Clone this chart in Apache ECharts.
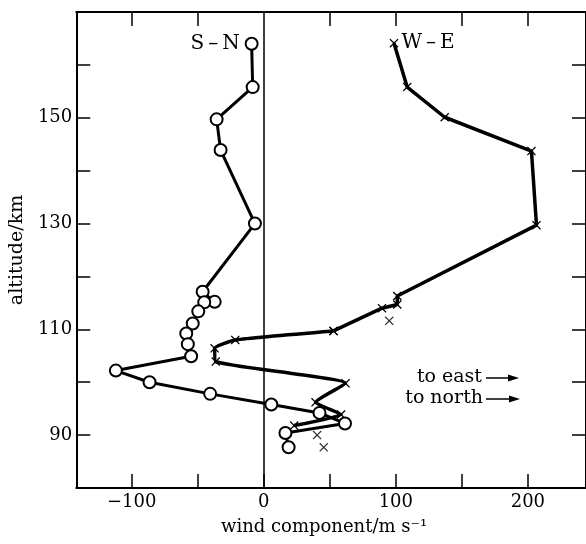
<!DOCTYPE html>
<html>
<head>
<meta charset="utf-8">
<script src="https://cdn.jsdelivr.net/npm/echarts@6/dist/echarts.min.js"></script>
<style>
  html, body { margin: 0; padding: 0; background: #fff; }
  #main { width: 586px; height: 544px; }
</style>
</head>
<body>
<div id="main"></div>
<script>
// S-N component (circles) top to bottom along the curve
const snX = [-9.2, -8.4, -35.7, -32.7, -6.7, -46.3, -37.2, -45.1, -49.6, -53.8, -58.7, -57.5, -55.0, -112, -86.5, -40.6, 5.7, 42.2, 61.5, 16.4, 18.8]
const snY = [164.0, 155.8, 149.7, 143.9, 130.0, 117.1, 115.2, 115.1, 113.4, 111.1, 109.2, 107.2, 104.9, 102.2, 100.0, 97.8, 95.8, 94.2, 92.2, 90.4, 87.7]

// W-E component (crosses) along the curve
const weX = [98.6, 108.6, 137, 202.7, 206.5, 101.1, 101.1, 89.5, 52.8, -21.6, -37.2, -36.4, 61.9, 39.2, 58.5, 23]
const weY = [164.1, 155.8, 150.1, 143.7, 129.7, 116.3, 114.7, 114.0, 109.7, 108.0, 106.4, 103.9, 99.8, 96.2, 93.9, 91.8]
// W-E crosses not on the line
const weLooseX = [95, 40.4, 45.4]
const weLooseY = [111.6, 90.0, 87.7]

const xTicks = [-100, -50, 0, 50, 100, 150, 200]
const xLabels = [-100, 0, 100, 200]
const yTicks = [90, 100, 110, 120, 130, 140, 150, 160]
const yLabels = [90, 110, 130, 150]

const FONT = 'DejaVu Serif'
const crossPath = 'path://M0,1L1,0L5,4L9,0L10,1L6,5L10,9L9,10L5,6L1,10L0,9L4,5Z'

var chartDom = document.getElementById('main')
var myChart = echarts.init(chartDom)
var option

const pairs = (xs, ys) => xs.map((x, i) => [x, ys[i]])

const snData = pairs(snX, snY)
snData[0] = {
  value: snData[0],
  label: { show: true, position: 'left', distance: 5, formatter: 'S\u2009\u2013\u2009N', fontFamily: FONT, fontSize: 20, color: '#000' }
}
// upper and lower part of the W-E curve, sharing the 109.7 km point
const weAll = pairs(weX, weY)
const weUpper = weAll.slice(0, 9)
weUpper[0] = {
  value: weUpper[0],
  label: { show: true, position: 'right', distance: 3, formatter: 'W\u2009\u2013\u2009E', fontFamily: FONT, fontSize: 20, color: '#000' }
}
const weLower = weAll.slice(8)

const tickStyle = { inside: true, length: 14, lineStyle: { color: '#000', width: 1.5 } }
const lineAxis = { show: true, onZero: false, lineStyle: { color: '#000', width: 2 } }

const weStyle = {
  type: 'line',
  symbol: crossPath,
  symbolSize: 9,
  itemStyle: { color: '#000' },
  lineStyle: { color: '#000', width: 3.5 },
  z: 2
}

option = {
  animation: false,
  backgroundColor: '#fff',
  grid: { left: 73, right: -6, top: 12, bottom: 56 },
  xAxis: [
    {
      type: 'value',
      min: -142,
      max: 244,
      axisLine: lineAxis,
      axisTick: Object.assign({ customValues: xTicks }, tickStyle),
      axisLabel: {
        customValues: xLabels,
        margin: 5,
        fontFamily: FONT,
        fontSize: 18,
        color: '#000',
        formatter: v => (v < 0 ? '\u2212' + Math.abs(v) : String(v))
      },
      splitLine: { show: false },
      name: 'wind component/m s\u207B\u00B9',
      nameLocation: 'middle',
      nameGap: 30,
      nameTextStyle: { fontFamily: FONT, fontSize: 18, color: '#000', padding: [0, 14, 0, 0] }
    },
    {
      type: 'value',
      position: 'top',
      min: -142,
      max: 244,
      axisLine: lineAxis,
      axisTick: Object.assign({ customValues: xTicks.filter(v => v !== 0) }, tickStyle),
      axisLabel: { show: false },
      splitLine: { show: false }
    }
  ],
  yAxis: [
    {
      type: 'value',
      min: 80,
      max: 170,
      axisLine: lineAxis,
      axisTick: Object.assign({ customValues: yTicks }, tickStyle),
      axisLabel: {
        customValues: yLabels,
        margin: 4,
        fontFamily: FONT,
        fontSize: 18,
        color: '#000'
      },
      splitLine: { show: false },
      name: 'altitude/km',
      nameLocation: 'middle',
      nameGap: 34,
      nameTextStyle: { fontFamily: FONT, fontSize: 19, color: '#000' }
    },
    {
      type: 'value',
      position: 'right',
      min: 80,
      max: 170,
      axisLine: lineAxis,
      axisTick: Object.assign({ customValues: yTicks }, tickStyle),
      axisLabel: { show: false },
      splitLine: { show: false }
    }
  ],
  series: [
    Object.assign({
      name: 'W-E',
      smooth: false,
      data: weUpper,
      markLine: {
        silent: true,
        symbol: 'none',
        label: { show: false },
        lineStyle: { color: '#000', width: 1.5, type: 'solid' },
        data: [{ xAxis: 0 }]
      }
    }, weStyle),
    Object.assign({ name: 'W-E low', smooth: 0.15, data: weLower }, weStyle),
    {
      name: 'W-E loose',
      type: 'scatter',
      data: pairs(weLooseX, weLooseY),
      symbol: crossPath,
      symbolSize: 9,
      itemStyle: { color: '#000' },
      z: 2
    },
    {
      name: 'S-N',
      type: 'line',
      data: snData,
      symbol: 'circle',
      symbolSize: 12,
      itemStyle: { color: '#fff', borderColor: '#000', borderWidth: 2 },
      lineStyle: { color: '#000', width: 3 },
      z: 3
    }
  ],
  graphic: [
    {
      type: 'group',
      children: [
        { type: 'text', x: 482, y: 377, style: { text: 'to east', align: 'right', verticalAlign: 'middle', font: '19px "DejaVu Serif"', fill: '#000' } },
        { type: 'line', shape: { x1: 486, y1: 378, x2: 512, y2: 378 }, style: { stroke: '#000', lineWidth: 1.5 } },
        { type: 'polygon', shape: { points: [[519, 378], [508, 374.5], [508, 381.5]] }, style: { fill: '#000' } },
        { type: 'text', x: 483, y: 398, style: { text: 'to north', align: 'right', verticalAlign: 'middle', font: '19px "DejaVu Serif"', fill: '#000' } },
        { type: 'line', shape: { x1: 486, y1: 399, x2: 513, y2: 399 }, style: { stroke: '#000', lineWidth: 1.5 } },
        { type: 'polygon', shape: { points: [[520, 399], [509, 395.5], [509, 402.5]] }, style: { fill: '#000' } }
      ]
    }
  ]
}

option && myChart.setOption(option)
</script>
</body>
</html>
